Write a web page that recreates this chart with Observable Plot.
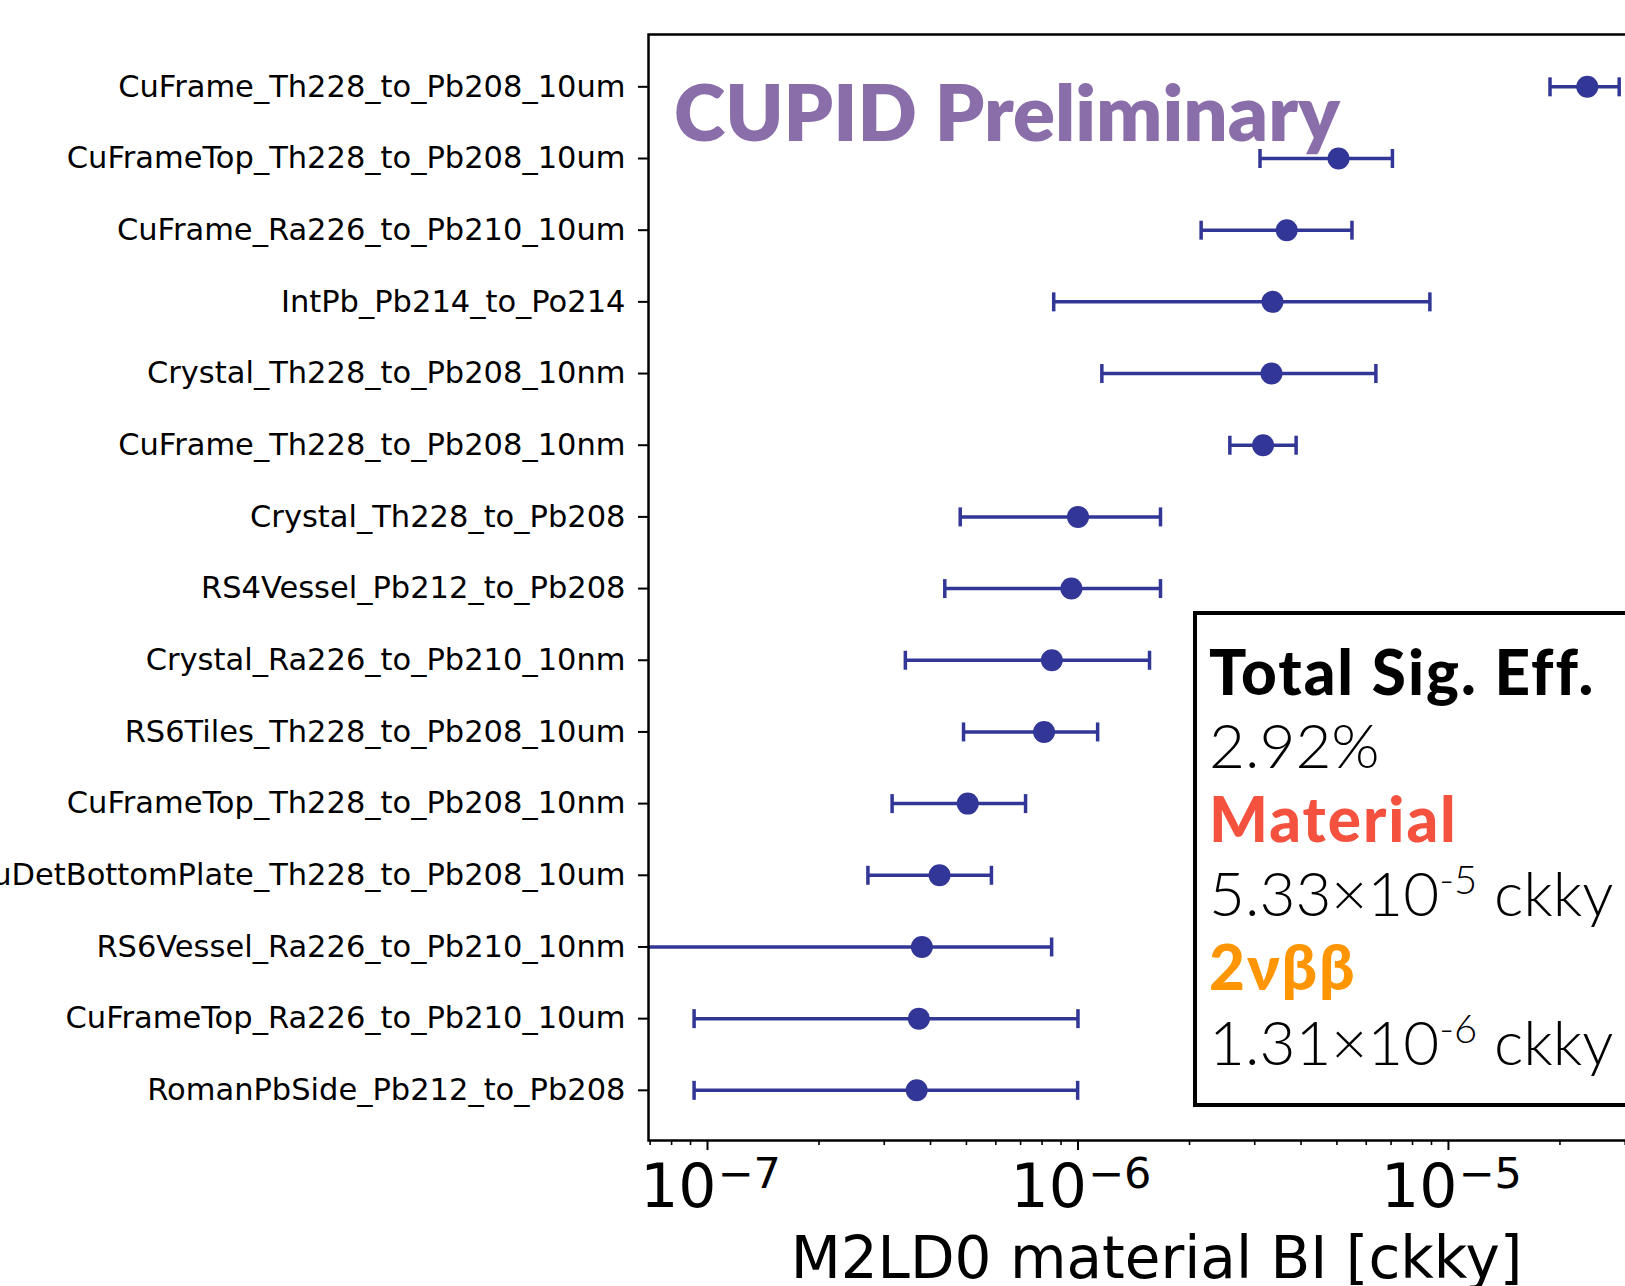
<!DOCTYPE html>
<html>
<head>
<meta charset="utf-8">
<script src="https://cdn.jsdelivr.net/npm/d3@7"></script>
<script src="https://cdn.jsdelivr.net/npm/@observablehq/plot@0.6"></script>
<style>
  html, body { margin: 0; padding: 0; background: white; overflow: hidden; width: 1625px; height: 1286px; }
  #chart { position: absolute; left: -60px; top: 0; width: 1734px; height: 1300px; }
  #chart svg { max-width: none !important; width: 1734px !important; height: 1300px !important; }
  #overlay { position: absolute; left: 0; top: 0; pointer-events: none; }
</style>
</head>
<body>
<div id="chart"></div>
<svg id="overlay" width="1625" height="1286"></svg>
<script>
// ---- data ----
const names = [
  "CuFrame_Th228_to_Pb208_10um",
  "CuFrameTop_Th228_to_Pb208_10um",
  "CuFrame_Ra226_to_Pb210_10um",
  "IntPb_Pb214_to_Po214",
  "Crystal_Th228_to_Pb208_10nm",
  "CuFrame_Th228_to_Pb208_10nm",
  "Crystal_Th228_to_Pb208",
  "RS4Vessel_Pb212_to_Pb208",
  "Crystal_Ra226_to_Pb210_10nm",
  "RS6Tiles_Th228_to_Pb208_10um",
  "CuFrameTop_Th228_to_Pb208_10nm",
  "CuDetBottomPlate_Th228_to_Pb208_10um",
  "RS6Vessel_Ra226_to_Pb210_10nm",
  "CuFrameTop_Ra226_to_Pb210_10um",
  "RomanPbSide_Pb212_to_Pb208"
];
const values = [2.37e-5, 5.05e-6, 3.66e-6, 3.35e-6, 3.33e-6, 3.16e-6, 1.00e-6, 9.6e-7, 8.5e-7, 8.1e-7, 5.04e-7, 4.23e-7, 3.79e-7, 3.72e-7, 3.67e-7];
const lower  = [1.88e-5, 3.10e-6, 2.15e-6, 8.6e-7, 1.16e-6, 2.57e-6, 4.81e-7, 4.37e-7, 3.42e-7, 4.91e-7, 3.15e-7, 2.71e-7, 5.0e-8, 9.2e-8, 9.2e-8];
const upper  = [2.89e-5, 7.06e-6, 5.49e-6, 8.91e-6, 6.37e-6, 3.88e-6, 1.67e-6, 1.67e-6, 1.56e-6, 1.13e-6, 7.22e-7, 5.84e-7, 8.49e-7, 1.0e-6, 9.98e-7];
const majorTicks = [1e-7, 1e-6, 1e-5];
const tickExponents = ["\u22127", "\u22126", "\u22125"];
const xLabel = "M2LD0 material BI [ckky]";
const watermark = "CUPID Preliminary";
const legendLines = [
  {text: "Total Sig. Eff.", kind: "head", color: "#000000"},
  {text: "2.92%", kind: "value"},
  {text: "Material", kind: "head", color: "#f4513f"},
  {mant: "5.33\u00d710", exp: "-5", unit: " ckky", kind: "sci"},
  {text: "2\u03bd\u03b2\u03b2", kind: "head", color: "#ff9500"},
  {mant: "1.31\u00d710", exp: "-6", unit: " ckky", kind: "sci"}
];

// ---- build table ----
const rows = names.map((n, i) => ({i, name: n, v: values[i], lo: lower[i], hi: upper[i]}));
const minorTicks = [];
for (const d of [1e-8, 1e-7, 1e-6, 1e-5]) for (let k = 2; k <= 9; k++) minorTicks.push(k * d);

const BLUE = "#323696";
const vbar = {draw(ctx, size) { const h = Math.sqrt(size / Math.PI); ctx.moveTo(0, -h); ctx.lineTo(0, h); }};

const chart = Plot.plot({
  width: 1734,
  height: 1300,
  marginLeft: 708,
  marginRight: 10,
  marginTop: 34,
  marginBottom: 160,
  style: {fontFamily: "DejaVu Sans", fontSize: "30px", background: "white", color: "black", overflow: "visible"},
  x: {type: "log", domain: [6.93e-8, 3.83e-5]},
  y: {type: "linear", domain: [14.7, -0.73]},
  marks: [
    Plot.ruleY(rows, {y: "i", x1: "lo", x2: "hi", stroke: BLUE, strokeWidth: 3.5, clip: true}),
    Plot.dot(rows, {x: "lo", y: "i", symbol: vbar, r: 9.5, stroke: BLUE, strokeWidth: 3.5, fill: "none", clip: true}),
    Plot.dot(rows, {x: "hi", y: "i", symbol: vbar, r: 9.5, stroke: BLUE, strokeWidth: 3.5, fill: "none", clip: true}),
    Plot.dot(rows, {x: "v", y: "i", r: 11, fill: BLUE, stroke: "none", clip: true}),
    Plot.axisY({ticks: d3.range(names.length), tickFormat: i => names[i], tickSize: 10, tickPadding: 13, fontSize: 30.5, label: null, strokeWidth: 2, fill: "black"}),
    Plot.axisX({ticks: minorTicks.filter(t => t > 6.93e-8 && t < 3.83e-5), tickSize: 5, tickFormat: () => "", label: null, strokeWidth: 1.6}),
    Plot.axisX({ticks: majorTicks, tickSize: 10, tickFormat: () => "", label: null, strokeWidth: 2}),
    Plot.text(majorTicks, {x: d => d, frameAnchor: "bottom", text: () => "10", textAnchor: "end", dx: 9, dy: 66, fontSize: 60, fill: "black"}),
    Plot.text(majorTicks, {x: d => d, frameAnchor: "bottom", text: (d, i) => tickExponents[i], textAnchor: "start", dx: 10, dy: 47, fontSize: 43, fill: "black"}),
    Plot.text([xLabel], {frameAnchor: "bottom", text: d => d, dy: 137, fontSize: 58, fill: "black"}),
    Plot.frame({stroke: "black", strokeWidth: 2.5})
  ]
});
document.getElementById("chart").appendChild(chart);

// ---- overlay annotations ----
const ov = d3.select("#overlay");
ov.append("text")
  .attr("x", 674).attr("y", 141)
  .attr("font-family", "Lato").attr("font-weight", 800).attr("font-size", 78)
  .attr("fill", "#7f62a2").attr("fill-opacity", 0.92)
  .text(watermark);

ov.append("rect")
  .attr("x", 1195).attr("y", 613).attr("width", 470).attr("height", 492)
  .attr("fill", "white").attr("stroke", "black").attr("stroke-width", 4);

const baselines = [695, 768, 842, 916, 990, 1065];
legendLines.forEach((L, k) => {
  const t = ov.append("text").attr("x", 1209).attr("y", baselines[k])
    .attr("font-family", "Lato").attr("font-size", 62);
  if (L.kind === "head") {
    t.attr("font-weight", 900).attr("fill", L.color).attr("letter-spacing", 2).text(L.text);
  } else if (L.kind === "value") {
    t.attr("font-weight", 300).attr("fill", "black").text(L.text);
  } else {
    t.attr("font-weight", 300).attr("fill", "black");
    t.append("tspan").text(L.mant);
    t.append("tspan").attr("dy", -22).attr("font-size", 40).text(L.exp);
    t.append("tspan").attr("dy", 22).text(L.unit);
  }
});
</script>
</body>
</html>
